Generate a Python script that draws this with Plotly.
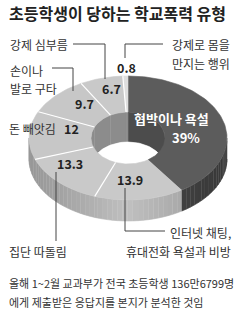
import numpy as np
import plotly.graph_objects as go

# ---------------- data ----------------
title = "초등학생이 당하는 학교폭력 유형"
categories = ["협박이나 욕설", "인터넷 채팅, 휴대전화 욕설과 비방", "집단 따돌림",
              "돈 빼앗김", "손이나 발로 구타", "강제 심부름", "강제로 몸을 만지는 행위"]
values = [39, 13.9, 13.3, 12, 9.7, 6.7, 0.8]
value_labels = ["39%", "13.9", "13.3", "12", "9.7", "6.7", "0.8"]
footnote = ["올해 1~2월 교과부가 전국 초등학생 136만6799명",
            "에게 제출받은 응답지를 본지가 분석한 것임"]

# ---------------- style / geometry ----------------
W, H = 240, 316
CX, CY = 128, 138
RXO, RYO = 99, 62
RXI, RYI = 37, 26
T_OUT, T_IN = 21, 30
FONT = "Noto Sans CJK KR"
top_colors = ["#5c5c5c", "#c9c9c9", "#c9c9c9", "#c7c7c7", "#c7c7c7", "#c9c9c9", "#dedede"]
is_dark = [True, False, False, False, False, False, False]


def pt(theta, rx, ry, dy=0.0):
    t = np.radians(theta)
    return CX + rx * np.sin(t), CY - ry * np.cos(t) + dy


def arc(a, b, rx, ry, dy=0.0, n=None):
    if n is None:
        n = max(2, int(abs(b - a) / 1.5) + 2)
    th = np.linspace(a, b, n)
    x, y = pt(th, rx, ry, dy)
    return list(x), list(y)


def grey(v):
    v = int(max(0, min(255, v)))
    return f"rgb({v},{v},{v})"


total = sum(values)
bounds = [0.0]
for v in values:
    bounds.append(bounds[-1] + v / total * 360.0)

fig = go.Figure()


def poly(xs, ys, color):
    fig.add_trace(go.Scatter(x=xs, y=ys, mode="lines", fill="toself",
                             fillcolor=color, line=dict(color=color, width=0.6),
                             hoverinfo="skip", showlegend=False))


# outer front wall
for i in range(len(values)):
    a, b = max(bounds[i], 90), min(bounds[i + 1], 270)
    if b <= a:
        continue
    segs = np.arange(a, b, 3.0).tolist() + [b]
    for s, e in zip(segs[:-1], segs[1:]):
        m = np.radians((s + e) / 2)
        f = 1 - abs(np.sin(m))
        col = grey(56 + 18 * f) if is_dark[i] else grey(150 + 42 * f)
        x1, y1 = arc(s, e, RXO, RYO)
        x2, y2 = arc(e, s, RXO, RYO, T_OUT)
        poly(x1 + x2, y1 + y2, col)

# inner (far) wall seen through the hole
for i in range(len(values)):
    for lo, hi in [(0, 90), (270, 360)]:
        a, b = max(bounds[i], lo), min(bounds[i + 1], hi)
        if b <= a:
            continue
        col = "#4c4c4c" if is_dark[i] else "#8c8c8c"
        x1, y1 = arc(a, b, RXI, RYI)
        x2, y2 = arc(b, a, RXI, RYI, T_IN)
        poly(x1 + x2, y1 + y2, col)

# background seen below the inner wall
xe, ye = arc(0, 360, RXI, RYI, T_IN, n=120)
poly(xe, ye, "#ffffff")

# top face
for i in range(len(values)):
    a, b = bounds[i], bounds[i + 1]
    x1, y1 = arc(a, b, RXO, RYO)
    x2, y2 = arc(b, a, RXI, RYI)
    poly(x1 + x2, y1 + y2, top_colors[i])

# white separators between light slices
for k in range(1, len(values)):
    if is_dark[k - 1] or is_dark[k]:
        continue
    xi, yi = pt(bounds[k], RXI, RYI)
    xo, yo = pt(bounds[k], RXO, RYO)
    fig.add_trace(go.Scatter(x=[xi, xo], y=[yi, yo], mode="lines",
                             line=dict(color="white", width=1.2),
                             hoverinfo="skip", showlegend=False))

# ---------------- text ----------------
ann = []


def text(x, y, s, size=12, color="#333333", anchor="left", weight="normal"):
    ann.append(dict(x=x, y=y, xref="x", yref="y", text=s, showarrow=False,
                    xanchor=anchor, yanchor="middle",
                    font=dict(family=FONT, size=size, color=color, weight=weight)))


text(7, 13, title, size=16, color="#222222", weight="bold")

# value labels
val_pos = [None, (130, 179), (70, 163), (71, 128), (84, 103), (111, 88), (126, 67)]
for i, p in enumerate(val_pos):
    if p is None:
        continue
    text(p[0], p[1], value_labels[i], size=12.5, color="#222222", anchor="center", weight="bold")

text(171, 118, categories[0], size=13, color="white", anchor="center", weight="bold")
text(186, 137, value_labels[0], size=13, color="white", anchor="center", weight="bold")

# category labels
text(8, 44, categories[5], size=12)
text(8, 70, "손이나", size=12)
text(8, 88, "발로 구타", size=12)
text(7, 128, categories[3], size=12)
text(7, 251, categories[2], size=12)
text(168, 232, "인터넷 채팅,", size=12)
text(233, 251, "휴대전화 욕설과 비방", size=12, anchor="right")
text(232, 44, "강제로 몸을", size=12, anchor="right")
text(232, 63, "만지는 행위", size=12, anchor="right")

text(7, 283, footnote[0], size=11)
text(7, 302, footnote[1], size=11)

line_style = dict(color="#444444", width=1)
shapes = [
    dict(type="path", path="M 73,44 L 105,44 L 105,79", line=line_style),
    dict(type="path", path="M 52,68 L 73,68 L 73,91", line=line_style),
    dict(type="path", path="M 56,172 L 56,241", line=line_style),
    dict(type="path", path="M 125,188 L 125,231 L 165,231", line=line_style),
    dict(type="path", path="M 163,44 L 125,44 L 125,58", line=line_style),
]
for s in shapes:
    s.update(xref="x", yref="y", layer="above")

fig.update_layout(
    width=W, height=H, margin=dict(l=0, r=0, t=0, b=0),
    paper_bgcolor="white", plot_bgcolor="white",
    xaxis=dict(range=[0, W], visible=False, fixedrange=True),
    yaxis=dict(range=[H, 0], visible=False, fixedrange=True),
    annotations=ann, shapes=shapes, showlegend=False,
)

fig.write_html("out.html", config={"displayModeBar": False})
